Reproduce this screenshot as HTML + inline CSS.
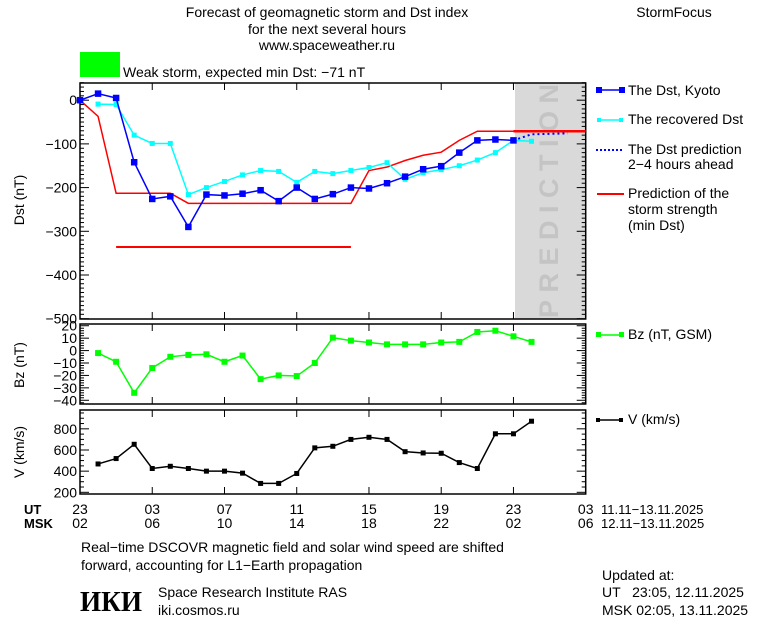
<!DOCTYPE html>
<html><head><meta charset="utf-8">
<style>
html,body{margin:0;padding:0;background:#fff;}
svg{display:block;font-family:"Liberation Sans",sans-serif;}
text{font-size:14px;fill:#000;}
</style></head>
<body>
<svg id="chart" width="760" height="620" viewBox="0 0 760 620" xmlns="http://www.w3.org/2000/svg">
<text x="327" y="17" text-anchor="middle">Forecast of geomagnetic storm and Dst index</text>
<text x="327" y="34" text-anchor="middle">for the next several hours</text>
<text x="327" y="50" text-anchor="middle">www.spaceweather.ru</text>
<text x="674" y="17" text-anchor="middle">StormFocus</text>
<rect x="80" y="52" width="40" height="25" fill="#00ff00"/>
<text x="123" y="77">Weak storm, expected min Dst: −71 nT</text>
<g id="plots"></g>
<g>
 <line x1="597" y1="90" x2="622" y2="90" stroke="#0000ff" stroke-width="1.5"/>
 <rect x="596" y="87" width="6" height="6" fill="#0000ff"/><rect x="619" y="87" width="6" height="6" fill="#0000ff"/>
 <text x="628" y="95">The Dst, Kyoto</text>
 <line x1="597" y1="120" x2="622" y2="120" stroke="#00ffff" stroke-width="1.5"/>
 <rect x="597" y="118" width="4" height="4" fill="#00ffff"/><rect x="619" y="118" width="4" height="4" fill="#00ffff"/>
 <text x="628" y="124">The recovered Dst</text>
 <line x1="596" y1="150" x2="622" y2="150" stroke="#0000ff" stroke-width="2" stroke-dasharray="2,2"/>
 <text x="628" y="154">The Dst prediction</text>
 <text x="628" y="169">2−4 hours ahead</text>
 <line x1="597" y1="194" x2="624" y2="194" stroke="#ff0000" stroke-width="2"/>
 <text x="628" y="198">Prediction of the</text>
 <text x="628" y="214">storm strength</text>
 <text x="628" y="230">(min Dst)</text>
 <line x1="597" y1="335" x2="622" y2="335" stroke="#00ff00" stroke-width="1.5"/>
 <rect x="596" y="332" width="5" height="5" fill="#00ff00"/><rect x="619" y="332" width="5" height="5" fill="#00ff00"/>
 <text x="628" y="339">Bz (nT, GSM)</text>
 <line x1="597" y1="420" x2="622" y2="420" stroke="#000" stroke-width="1.5"/>
 <rect x="596" y="418" width="4" height="4" fill="#000"/><rect x="619" y="418" width="4" height="4" fill="#000"/>
 <text x="628" y="424">V (km/s)</text>
</g>
<g>
 <text x="24" y="514" style="font-weight:bold;font-size:13px">UT</text>
 <text x="24" y="528" style="font-weight:bold;font-size:13px">MSK</text>
 <text x="601" y="514" style="font-size:13px">11.11−13.11.2025</text>
 <text x="601" y="528" style="font-size:13px">12.11−13.11.2025</text>
</g>
<text x="81" y="552">Real−time DSCOVR magnetic field and solar wind speed are shifted</text>
<text x="81" y="570">forward, accounting for L1−Earth propagation</text>
<text x="80" y="611" textLength="62" lengthAdjust="spacingAndGlyphs" style="font-family:'Liberation Serif',serif;font-weight:bold;font-size:28px">ИКИ</text>
<text x="158" y="597">Space Research Institute RAS</text>
<text x="158" y="615">iki.cosmos.ru</text>
<text x="602" y="580">Updated at:</text>
<text x="602" y="597" xml:space="preserve">UT   23:05, 12.11.2025</text>
<text x="602" y="615">MSK 02:05, 13.11.2025</text>
</svg>
<script>
const utTicks = ["23","03","07","11","15","19","23","03"];
const mskTicks = ["02","06","10","14","18","22","02","06"];
const dstHours = [0,1,2,3,4,5,6,7,8,9,10,11,12,13,14,15,16,17,18,19,20,21,22,23,24];
const dstKyoto = [0,15,5,-142,-226,-220,-290,-216,-218,-214,-206,-231,-200,-226,-215,-200,-202,-190,-175,-158,-151,-120,-92,-90,-92];
const recHours = [1,2,3,4,5,6,7,8,9,10,11,12,13,14,15,16,17,18,19,20,21,22,23,24,25];
const dstRecovered = [-9,-10,-80,-99,-99,-216,-200,-186,-171,-161,-163,-188,-163,-168,-161,-154,-143,-181,-166,-159,-150,-137,-120,-92,-94];
const predHours = [24,25,27];
const dstPredicted = [-92,-78,-76];
const stormHours = [0,1,2,5,6,15,16,17,18,19,20,21,22,24];
const stormStrength = [0,-37,-213,-213,-236,-236,-161,-153,-138,-126,-119,-92,-71,-71];
const stormFuture = -71;
const minLevelRange = [2,15];
const minLevel = -336;
const bzHours = [1,2,3,4,5,6,7,8,9,10,11,12,13,14,15,16,17,18,19,20,21,22,23,24,25];
const bzValues = [-2,-9,-34,-14,-5,-3.5,-3,-9,-4,-23,-20,-20.5,-10,10.4,8,6.5,5,5,5,6.5,7,15,16,11.5,7];
const vHours = [1,2,3,4,5,6,7,8,9,10,11,12,13,14,15,16,17,18,19,20,21,22,23,24,25];
const vValues = [468,519,654,425,446,425,400,400,381,284,284,378,620,635,700,720,700,584,572,569,481,425,753,753,872];
const dstTicks = [0,-100,-200,-300,-400,-500];
const bzTicks = [20,10,0,-10,-20,-30,-40];
const vTicks = [800,600,400,200];

const NS="http://www.w3.org/2000/svg";
const g=document.getElementById('plots');
const X0=80,X1=585.7,HMAX=28;
const xs=h=>X0+(X1-X0)*h/HMAX;
function mk(tag,attrs,parent){const e=document.createElementNS(NS,tag);for(const k in attrs)e.setAttribute(k,attrs[k]);(parent||g).appendChild(e);return e;}
function scaleY(top,bot,vTop,vBot){return v=>top+(vTop-v)*(bot-top)/(vTop-vBot);}

const yD=scaleY(82.7,318.7,40,-500);
const yB=scaleY(324,404,21.4,-43);
const yV=scaleY(410,494,978,184);

const shade=mk('rect',{x:515,y:83,width:X1-515,height:236,fill:'#d9d9d9'});


const pt=mk('text',{x:0,y:0,transform:'translate(558,318) rotate(-90)','letter-spacing':'7.5',style:'font-weight:bold;fill:#c4c4c4;font-size:27px'});
pt.textContent='PREDICTION';



function frame(top,bot,yf,ticks,minorStep,vMin,vMax,name,labelName,ylab,ylabY){
  const r=mk('rect',{x:X0,y:top,width:X1-X0,height:bot-top,fill:'none',stroke:'#000','stroke-width':1.5});
  
  
  for(let i=0;i<=7;i++){const x=xs(i*4);mk('line',{x1:x,y1:top,x2:x,y2:top+7,stroke:'#000'});mk('line',{x1:x,y1:bot,x2:x,y2:bot-7,stroke:'#000'});}
  for(let v=Math.ceil(vMin/minorStep)*minorStep;v<=vMax;v+=minorStep){const y=yf(v);const major=ticks.includes(v);const L=major?9:4;
    mk('line',{x1:X0,y1:y,x2:X0+L,y2:y,stroke:'#000'});mk('line',{x1:X1,y1:y,x2:X1-L,y2:y,stroke:'#000'});}
  ticks.forEach(v=>{const t=mk('text',{x:X0-3,y:yf(v)+5,'text-anchor':'end'});t.textContent=v<0?'−'+(-v):String(v);
    
    });
  const yl=mk('text',{x:0,y:0,transform:`translate(24,${ylabY}) rotate(-90)`,'text-anchor':'middle'});yl.textContent=ylab;
  
  
}
frame(83,319,yD,dstTicks,10,-500,40,'dst-panel','dst-tick-label','Dst (nT)',200);
frame(324,404,yB,bzTicks,2,-42,20,'bz-panel','bz-tick-label','Bz (nT)',365);
frame(410,494,yV,vTicks,50,200,950,'v-panel','v-tick-label','V (km/s)',452);

utTicks.forEach((t,i)=>{const e=mk('text',{x:xs(i*4),y:514,'text-anchor':'middle'});e.textContent=t;
  
  });
mskTicks.forEach((t,i)=>{const e=mk('text',{x:xs(i*4),y:528,'text-anchor':'middle'});e.textContent=t;
  
  });

function line(hs,vs,yf,color,w,name,dash){const p=mk('polyline',{points:hs.map((h,i)=>xs(h)+','+yf(vs[i])).join(' '),fill:'none',stroke:color,'stroke-width':w});
  if(dash)p.setAttribute('stroke-dasharray',dash);
  
  }
function marks(hs,vs,yf,color,s,name){hs.forEach((h,i)=>{const r=mk('rect',{x:xs(h)-s/2,y:yf(vs[i])-s/2,width:s,height:s,fill:color});
  
  });}

line(stormHours,stormStrength,yD,'#ff0000',1.5,'storm-strength-line');
line([stormHours[stormHours.length-1],HMAX],[stormFuture,stormFuture],yD,'#ff0000',2.5,'storm-strength-forecast');
line(minLevelRange,[minLevel,minLevel],yD,'#ff0000',2,'min-dst-level');
line(recHours,dstRecovered,yD,'#00ffff',1.5,'recovered-dst-line');
marks(recHours,dstRecovered,yD,'#00ffff',5,'recovered-dst-point');
line(dstHours,dstKyoto,yD,'#0000ff',1.5,'dst-kyoto-line');
marks(dstHours,dstKyoto,yD,'#0000ff',6.5,'dst-kyoto-point');
line(predHours,dstPredicted,yD,'#0000ff',2,'dst-prediction-line','2,3');
line(bzHours,bzValues,yB,'#00ff00',1.5,'bz-line');
marks(bzHours,bzValues,yB,'#00ff00',6,'bz-point');
line(vHours,vValues,yV,'#000',1.5,'v-line');
marks(vHours,vValues,yV,'#000',5,'v-point');
</script>
</body></html>
